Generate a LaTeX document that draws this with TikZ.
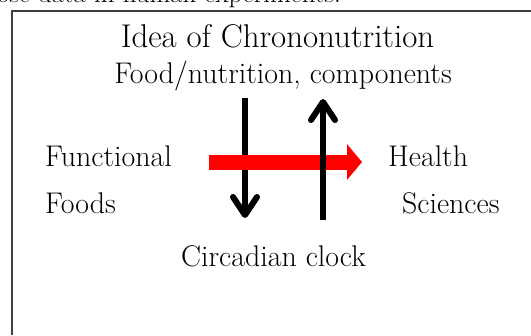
\documentclass[tikz,border=0pt]{standalone}
\usetikzlibrary{calc,arrows.meta}

\begin{document}
\begin{tikzpicture}[x=1bp,y=-1bp,
    lbl/.style={inner sep=0pt,font=\fontsize{30}{34}\selectfont},
    ttl/.style={inner sep=0pt,font=\fontsize{33}{38}\selectfont},
    flow/.style={line width=6bp,-{Straight Barb[length=18bp,width=24bp,round]}},
    effect/.style={red,line width=15bp,-{Triangle[length=15bp,width=35bp]}}]
  \useasboundingbox (0,0) rectangle (531,335);

  % line cut off above the frame
  \begin{scope}
    \clip (0,0) rectangle (531,335);
    \node[inner sep=0pt,font=\fontsize{27}{31}\selectfont,anchor=base east] (intro) at (341,2) {those data in human experiments.};
  \end{scope}

  % frame
  \draw[black!75,line width=1.3bp] (12,335) -- (12,11) -- (531,11);

  \node[ttl,anchor=base] (title) at (277.5,47) {Idea of Chrononutrition};
  \node[lbl,anchor=base] (food) at (283,83) {Food/nutrition, components};
  \node[lbl,anchor=base west] (func) at (45,166) {Functional};
  \node[lbl,anchor=base west] (foods) at (45,213) {Foods};
  \node[lbl,anchor=base west] (health) at (388,166) {Health};
  \node[lbl,anchor=base west] (sci) at (402,213) {Sciences};
  \node[lbl,anchor=base] (clock) at (273.5,266) {Circadian clock};

  \coordinate (down-a) at (245,98);
  \coordinate (down-b) at (245,218);
  \coordinate (up-a) at (323,220);
  \coordinate (up-b) at (323,99);
  \coordinate (red-a) at (209,162);
  \coordinate (red-b) at (362,162);

  \draw[flow] (down-a) -- (down-b);
  \draw[effect] (red-a) -- (red-b);
  \draw[flow] (up-a) -- (up-b);
\end{tikzpicture}
\end{document}
